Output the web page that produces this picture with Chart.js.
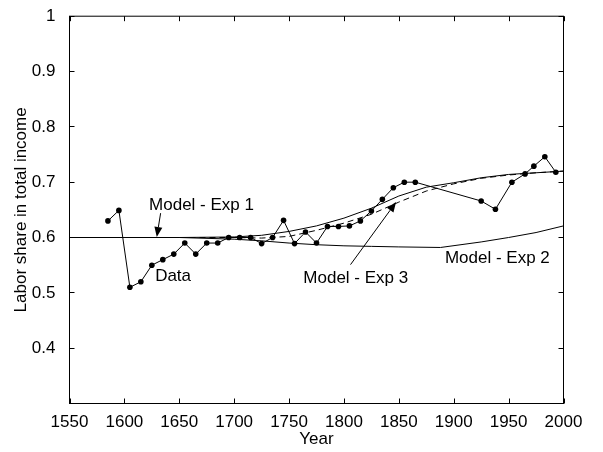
<!DOCTYPE html>
<html>
<head>
<meta charset="utf-8">
<script src="https://cdn.jsdelivr.net/npm/chart.js@4/dist/chart.umd.min.js"></script>
<style>
  html, body { margin: 0; padding: 0; background: #fff; }
  #c { display: block; }
</style>
</head>
<body>
<canvas id="c" width="603" height="452"></canvas>
<script>
// Observed labor share
const dataYears = [1585, 1595, 1605, 1615, 1625, 1635, 1645, 1655, 1665, 1675, 1685, 1695,
  1705, 1715, 1725, 1735, 1745, 1755, 1765, 1775, 1785, 1795, 1805, 1815, 1825, 1835,
  1845, 1855, 1865, 1925, 1938, 1953, 1965, 1973, 1983, 1993];
const dataShare = [0.630, 0.649, 0.510, 0.520, 0.550, 0.560, 0.570, 0.590, 0.570, 0.590, 0.590, 0.600,
  0.600, 0.600, 0.589, 0.600, 0.631, 0.589, 0.610, 0.590, 0.620, 0.620, 0.621, 0.630, 0.648, 0.669,
  0.690, 0.700, 0.700, 0.666, 0.651, 0.700, 0.715, 0.729, 0.746, 0.718];

// Model simulations
const exp1Years = [1550, 1600, 1650, 1700, 1725, 1750, 1775, 1800, 1825, 1850, 1875, 1900, 1925, 1950, 1975, 2000];
const exp1Share = [0.600, 0.600, 0.600, 0.601, 0.604, 0.611, 0.621, 0.635, 0.653, 0.675, 0.691, 0.699, 0.708, 0.714, 0.717, 0.720];

const exp2Years = [1550, 1600, 1650, 1700, 1725, 1750, 1775, 1800, 1825, 1850, 1888, 1925, 1950, 1975, 2000];
const exp2Share = [0.600, 0.600, 0.600, 0.597, 0.594, 0.590, 0.587, 0.585, 0.584, 0.583, 0.582, 0.592, 0.600, 0.609, 0.621];

const exp3Years = [1550, 1600, 1650, 1700, 1725, 1750, 1775, 1800, 1825, 1850, 1875, 1900, 1925, 1950, 1975, 2000];
const exp3Share = [0.600, 0.600, 0.600, 0.600, 0.599, 0.602, 0.613, 0.626, 0.642, 0.664, 0.684, 0.697, 0.707, 0.713, 0.717, 0.720];

// Axis ticks
const xTicks = [1550, 1600, 1650, 1700, 1750, 1800, 1850, 1900, 1950, 2000];
const xTickLabels = ['1550', '1600', '1650', '1700', '1750', '1800', '1850', '1900', '1950', '2000'];
const yTicks = [0.3, 0.4, 0.5, 0.6, 0.7, 0.8, 0.9, 1.0];
const yTickLabels = ['', '0.4', '0.5', '0.6', '0.7', '0.8', '0.9', '1'];

const toPoints = (xs, ys) => xs.map((x, i) => ({ x: x, y: ys[i] }));

// Text labels in data coordinates; arrows run from [x0,y0] to the tip [x1,y1]
const annotations = [
  { text: 'Model - Exp 1', x: 1622.5, y: 0.659, arrow: [1633, 0.644, 1629.5, 0.601] },
  { text: 'Data', x: 1628, y: 0.530 },
  { text: 'Model - Exp 3', x: 1763, y: 0.527, arrow: [1806, 0.551, 1847.5, 0.664] },
  { text: 'Model - Exp 2', x: 1892, y: 0.563 }
];

const FONT = '17px "Liberation Sans", Arial, Helvetica, sans-serif';

// Box around the plot area with inward tick marks on every side
const boxPlugin = {
  id: 'boxTicks',
  afterDatasetsDraw(chart) {
    const { ctx, chartArea: a, scales } = chart;
    const tl = 5;
    ctx.save();
    ctx.strokeStyle = '#000';
    ctx.lineWidth = 1;
    ctx.beginPath();
    xTicks.forEach(v => {
      const px = Math.round(scales.x.getPixelForValue(v)) + 0.5;
      ctx.moveTo(px, a.bottom); ctx.lineTo(px, a.bottom - tl);
      ctx.moveTo(px, a.top); ctx.lineTo(px, a.top + tl);
    });
    yTicks.forEach(v => {
      const py = Math.round(scales.y.getPixelForValue(v) - 0.5) + 0.5;
      ctx.moveTo(a.left, py); ctx.lineTo(a.left + tl, py);
      ctx.moveTo(a.right, py); ctx.lineTo(a.right - tl, py);
    });
    ctx.stroke();
    ctx.strokeRect(a.left, a.top, a.right - a.left, a.bottom - a.top);
    ctx.restore();
  }
};

// Text labels and arrows
const notePlugin = {
  id: 'notes',
  afterDatasetsDraw(chart) {
    const { ctx, scales } = chart;
    const X = v => scales.x.getPixelForValue(v);
    const Y = v => scales.y.getPixelForValue(v);
    ctx.save();
    ctx.font = FONT;
    ctx.fillStyle = '#000';
    ctx.strokeStyle = '#000';
    ctx.lineWidth = 1;
    ctx.textAlign = 'left';
    ctx.textBaseline = 'middle';
    annotations.forEach(n => {
      ctx.fillText(n.text, X(n.x), Y(n.y));
      if (n.arrow) {
        const x0 = X(n.arrow[0]), y0 = Y(n.arrow[1]);
        const x1 = X(n.arrow[2]), y1 = Y(n.arrow[3]);
        const ang = Math.atan2(y1 - y0, x1 - x0);
        const hl = 10, hw = 4;
        const bx = x1 - hl * Math.cos(ang), by = y1 - hl * Math.sin(ang);
        ctx.beginPath();
        ctx.moveTo(x0, y0);
        ctx.lineTo(bx, by);
        ctx.stroke();
        ctx.beginPath();
        ctx.moveTo(x1, y1);
        ctx.lineTo(bx + hw * Math.sin(ang), by - hw * Math.cos(ang));
        ctx.lineTo(bx - hw * Math.sin(ang), by + hw * Math.cos(ang));
        ctx.closePath();
        ctx.fill();
      }
    });
    ctx.restore();
  }
};

Chart.defaults.font.family = '"Liberation Sans", Arial, Helvetica, sans-serif';
Chart.defaults.font.size = 17;
Chart.defaults.color = '#000';

const lineStyle = { showLine: true, borderColor: '#000', borderWidth: 1, pointRadius: 0, fill: false, tension: 0 };

new Chart(document.getElementById('c'), {
  type: 'scatter',
  data: {
    datasets: [
      Object.assign({ label: 'Model - Exp 2', data: toPoints(exp2Years, exp2Share) }, lineStyle),
      Object.assign({ label: 'Model - Exp 3', data: toPoints(exp3Years, exp3Share), borderDash: [6, 4] }, lineStyle),
      Object.assign({ label: 'Model - Exp 1', data: toPoints(exp1Years, exp1Share) }, lineStyle),
      {
        label: 'Data',
        data: toPoints(dataYears, dataShare),
        showLine: true,
        borderColor: '#000',
        borderWidth: 1,
        pointRadius: 2.8,
        pointBackgroundColor: '#000',
        pointBorderWidth: 0,
        tension: 0
      }
    ]
  },
  options: {
    responsive: false,
    animation: false,
    devicePixelRatio: 1,
    layout: { padding: { left: 0, top: 13.5, right: 39.5, bottom: 0 } },
    plugins: { legend: { display: false }, tooltip: { enabled: false } },
    scales: {
      x: {
        type: 'linear',
        min: 1550,
        max: 2000,
        afterBuildTicks: s => { s.ticks = xTicks.map(v => ({ value: v })); },
        afterFit: s => { s.height = 48.5; },
        grid: { display: false },
        border: { display: false },
        ticks: {
          padding: 1,
          maxRotation: 0,
          autoSkip: false,
          callback: (v, i) => xTickLabels[i]
        },
        title: { display: true, text: 'Year', padding: { top: 0, bottom: 2.5 } }
      },
      y: {
        type: 'linear',
        min: 0.3,
        max: 1,
        afterBuildTicks: s => { s.ticks = yTicks.map(v => ({ value: v })); },
        afterFit: s => { s.width = 69.5; },
        grid: { display: false },
        border: { display: false },
        ticks: {
          padding: 6,
          autoSkip: false,
          callback: (v, i) => yTickLabels[i]
        },
        title: { display: true, text: 'Labor share in total income', padding: { top: 10.8, bottom: 0 } }
      }
    }
  },
  plugins: [boxPlugin, notePlugin]
});
</script>
</body>
</html>
